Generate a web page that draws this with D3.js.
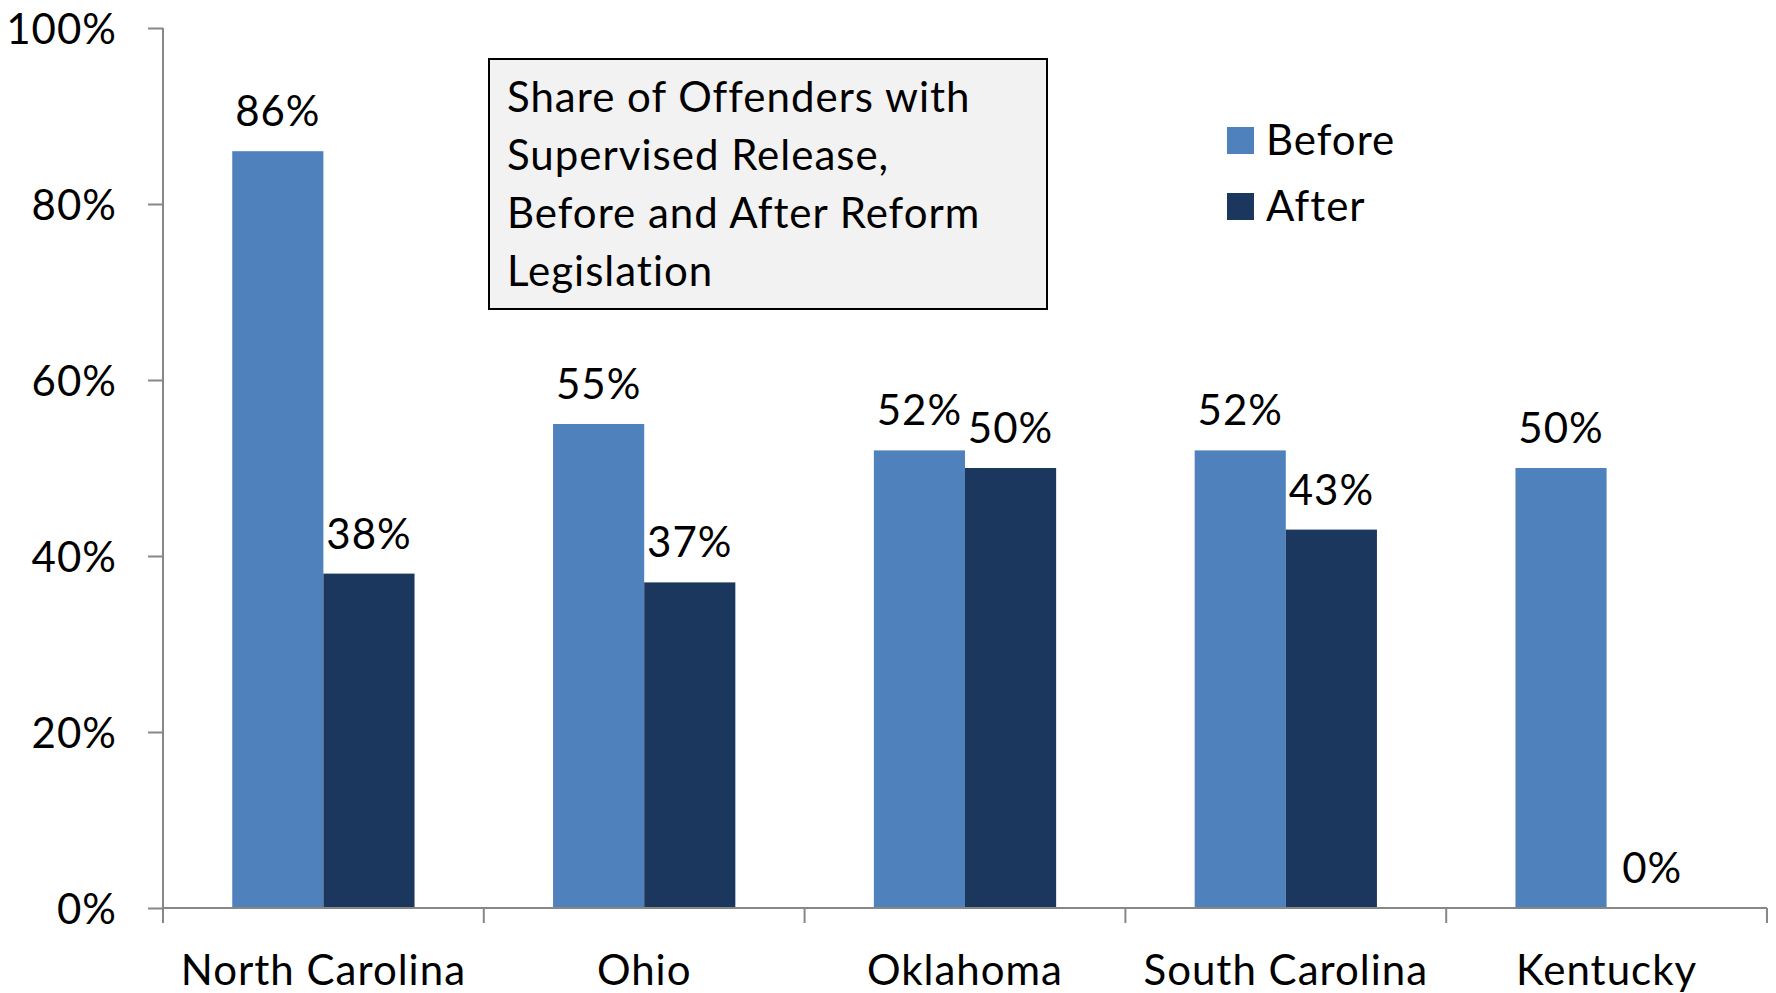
<!DOCTYPE html>
<html>
<head>
<meta charset="utf-8">
<script src="https://cdn.jsdelivr.net/npm/d3@7"></script>
<style>
  body { margin: 0; background: #fff; }
  text { font-family: Lato, "Open Sans", sans-serif; fill: #000; letter-spacing: 1px; }
</style>
</head>
<body>
<svg id="chart"></svg>
<script>
// values
const states = ["North Carolina", "Ohio", "Oklahoma", "South Carolina", "Kentucky"]
const before = [0.86, 0.55, 0.52, 0.52, 0.50]
const after = [0.38, 0.37, 0.50, 0.43, 0.00]
const seriesNames = ["Before", "After"]
const yTicks = [0, 0.2, 0.4, 0.6, 0.8, 1]
const titleLines = ["Share of Offenders with", "Supervised Release,", "Before and After Reform", "Legislation"]

const colors = { Before: "#4f81bd", After: "#1b375e" }
const fontSize = "42px"

let dimensions = {
  width: 1776, height: 993,
  margin: { top: 28, right: 9, bottom: 85, left: 163 },
}
dimensions.boundedWidth = dimensions.width - dimensions.margin.left - dimensions.margin.right
dimensions.boundedHeight = dimensions.height - dimensions.margin.top - dimensions.margin.bottom

const data = states.map((s, i) => ({ state: s, Before: before[i], After: after[i] }))

const wrapper = d3.select("#chart")
  .attr("width", dimensions.width)
  .attr("height", dimensions.height)

const bounds = wrapper.append("g")
  .attr("transform", `translate(${dimensions.margin.left}, ${dimensions.margin.top})`)

const xScale = d3.scaleBand()
  .domain(states)
  .range([0, dimensions.boundedWidth])
  .padding(0)

const xInner = d3.scaleBand()
  .domain(seriesNames)
  .range([0, xScale.bandwidth()])
  .paddingInner(0)
  .paddingOuter(0.76)

const yScale = d3.scaleLinear()
  .domain([0, 1])
  .range([dimensions.boundedHeight, 0])

// bars
const groups = bounds.selectAll(".grp")
  .data(data)
  .join("g")
  .attr("class", "grp")
  .attr("transform", d => `translate(${xScale(d.state)}, 0)`)

groups.selectAll("rect")
  .data(d => seriesNames.map(k => ({ key: k, value: d[k] })))
  .join("rect")
  .attr("x", d => xInner(d.key))
  .attr("width", xInner.bandwidth())
  .attr("y", d => yScale(d.value))
  .attr("height", d => dimensions.boundedHeight - yScale(d.value))
  .attr("fill", d => colors[d.key])

groups.selectAll(".lbl")
  .data(d => seriesNames.map(k => ({ key: k, value: d[k] })))
  .join("text")
  .attr("class", "lbl")
  .attr("x", d => xInner(d.key) + xInner.bandwidth() / 2)
  .attr("y", d => yScale(d.value) - 25)
  .attr("text-anchor", "middle")
  .style("font-size", fontSize)
  .text(d => d3.format(".0%")(d.value))

// y axis
const yAxisGenerator = d3.axisLeft(yScale)
  .tickValues(yTicks)
  .tickSize(15)
  .tickPadding(31)
  .tickFormat(d3.format(".0%"))

const yAxis = bounds.append("g").call(yAxisGenerator)
yAxis.select(".domain").remove()
yAxis.selectAll("line").attr("stroke", "#878787").attr("stroke-width", 2)
yAxis.selectAll("text").style("font-size", fontSize).attr("dy", "0.36em")

bounds.append("line")
  .attr("x1", 0).attr("x2", 0)
  .attr("y1", 0).attr("y2", dimensions.boundedHeight + 15)
  .attr("stroke", "#878787").attr("stroke-width", 2)

// x axis
const xAxis = bounds.append("g")
  .attr("transform", `translate(0, ${dimensions.boundedHeight})`)

xAxis.append("line")
  .attr("x1", 0).attr("x2", dimensions.boundedWidth)
  .attr("stroke", "#878787").attr("stroke-width", 2)

const boundaries = states.map(s => xScale(s)).concat([xScale.range()[1]])
xAxis.selectAll(".xtick")
  .data(boundaries)
  .join("line")
  .attr("class", "xtick")
  .attr("x1", d => d).attr("x2", d => d)
  .attr("y1", 0).attr("y2", 15)
  .attr("stroke", "#878787").attr("stroke-width", 2)

xAxis.selectAll(".xlbl")
  .data(states)
  .join("text")
  .attr("class", "xlbl")
  .attr("x", d => xScale(d) + xScale.bandwidth() / 2)
  .attr("y", 77)
  .attr("text-anchor", "middle")
  .style("font-size", fontSize)
  .text(d => d)

// title box
const box = wrapper.append("g")
box.append("rect")
  .attr("x", 489).attr("y", 59)
  .attr("width", 558).attr("height", 250)
  .attr("fill", "#f2f2f2")
  .attr("stroke", "#000").attr("stroke-width", 2)

box.selectAll("text")
  .data(titleLines)
  .join("text")
  .attr("x", 507)
  .attr("y", (d, i) => 112 + i * 58)
  .style("font-size", fontSize)
  .text(d => d)

// legend
const legend = wrapper.append("g")
  .attr("transform", "translate(1227, 127)")

const legendItems = legend.selectAll("g")
  .data(seriesNames)
  .join("g")
  .attr("transform", (d, i) => `translate(0, ${i * 66})`)

legendItems.append("rect")
  .attr("width", 27).attr("height", 27)
  .attr("fill", d => colors[d])

legendItems.append("text")
  .attr("x", 39).attr("y", 13)
  .attr("dy", "0.36em")
  .style("font-size", fontSize)
  .text(d => d)
</script>
</body>
</html>
